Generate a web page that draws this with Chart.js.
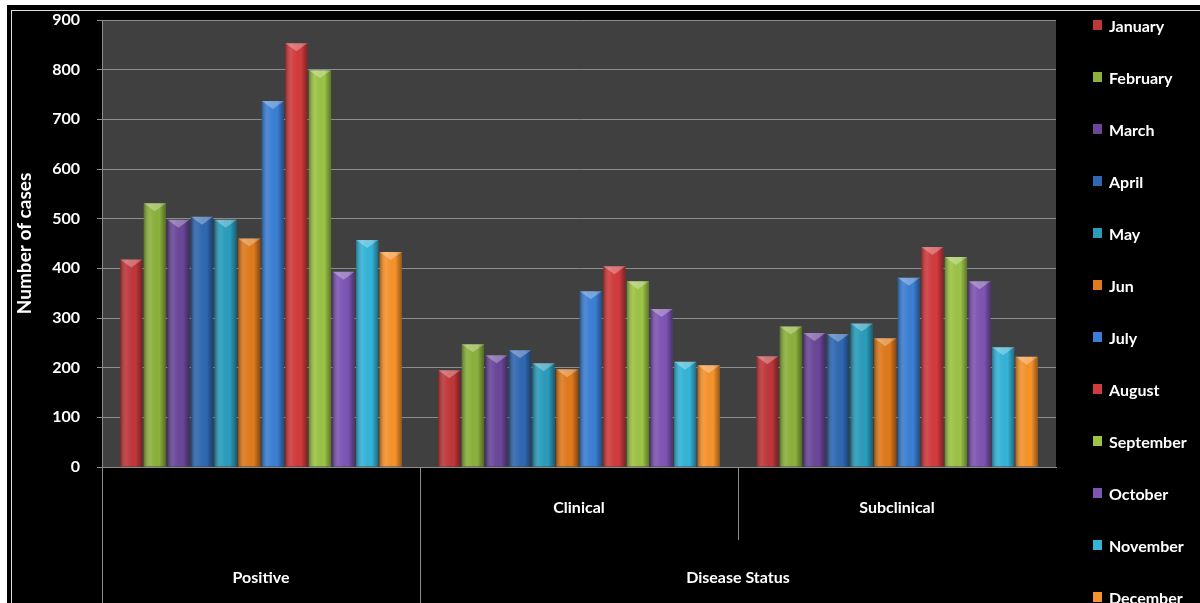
<!DOCTYPE html>
<html>
<head>
<meta charset="utf-8">
<script src="https://cdn.jsdelivr.net/npm/chart.js@4.4.0/dist/chart.umd.min.js"></script>
<style>
body { margin: 0; background: #fff; width: 1200px; height: 603px; overflow: hidden; position: relative; }
#frame { position: absolute; left: 7px; top: 5px; right: 0; bottom: 0; background: #000; }
#inner { position: absolute; left: 4px; top: 5px; right: -5px; bottom: -5px; border-left: 1px solid #ddd; border-top: 1px solid #ddd; }
#wrap { position: absolute; left: 0; top: 0; width: 1200px; height: 603px; }
#legend { position: absolute; left: 1093px; top: 0; width: 107px; height: 603px; overflow: hidden; }
.item { position: absolute; left: 0; height: 20px; display: flex; align-items: center; color: #fff; font: bold 16px Lato, sans-serif; white-space: nowrap; }
.box { width: 9px; height: 10px; margin-right: 7px; }
</style>
</head>
<body>
<div id="frame"><div id="inner"></div></div>
<div id="wrap"><canvas id="chart" width="1200" height="603"></canvas></div>
<div id="legend"></div>
<script>
const months = ['January', 'February', 'March', 'April', 'May', 'Jun', 'July',
    'August', 'September', 'October', 'November', 'December'];
const categories = ['Positive', 'Clinical', 'Subclinical'];
const parentLabel = 'Disease Status';

// values per category, one per month
const positive = [418, 531, 498, 504, 498, 460, 737, 853, 799, 393, 457, 433];
const clinical = [195, 247, 225, 235, 209, 197, 354, 404, 374, 318, 212, 205];
const subclinical = [223, 283, 270, 268, 289, 259, 381, 443, 423, 374, 241, 222];

const yTicks = [0, 100, 200, 300, 400, 500, 600, 700, 800, 900];

const colors = ['#c0373a', '#8cb13c', '#6a4799', '#2f68b2', '#2a9dbc', '#e07a1c',
    '#3b7fd4', '#d23b3d', '#9cc446', '#7e55b4', '#34b4d8', '#f7932b'];

const lineColor = '#8c8c8c';
const font = 'Lato, sans-serif';

const datasets = months.map((m, i) => ({
    label: m,
    data: [positive[i], clinical[i], subclinical[i]],
    backgroundColor: colors[i],
    borderWidth: 0,
    barPercentage: 0.94,
    categoryPercentage: 0.89
}));

const plotBg = {
    id: 'plotBg',
    beforeDraw(chart) {
        const a = chart.chartArea;
        chart.ctx.save();
        chart.ctx.fillStyle = '#404040';
        chart.ctx.fillRect(a.left, a.top, a.right - a.left, a.bottom - a.top);
        chart.ctx.restore();
    }
};

// shading and top bevel on each bar
const barShade = {
    id: 'barShade',
    afterDatasetsDraw(chart) {
        const c = chart.ctx;
        c.save();
        chart.data.datasets.forEach((ds, i) => {
            chart.getDatasetMeta(i).data.forEach(bar => {
                const left = bar.x - bar.width / 2;
                const right = bar.x + bar.width / 2;
                const g = c.createLinearGradient(left, 0, right, 0);
                g.addColorStop(0, 'rgba(0,0,0,0.35)');
                g.addColorStop(0.3, 'rgba(255,255,255,0.08)');
                g.addColorStop(0.7, 'rgba(0,0,0,0)');
                g.addColorStop(1, 'rgba(0,0,0,0.4)');
                c.fillStyle = g;
                c.fillRect(left, bar.y, bar.width, bar.base - bar.y);
                c.beginPath();
                c.moveTo(left, bar.y);
                c.lineTo(right, bar.y);
                c.lineTo(bar.x, bar.y + 8);
                c.closePath();
                c.fillStyle = 'rgba(255,255,255,0.3)';
                c.fill();
            });
        });
        c.restore();
    }
};

// lower label table: dividers, first category and parent label
const axisTable = {
    id: 'axisTable',
    afterDraw(chart) {
        const c = chart.ctx;
        const xs = chart.scales.x;
        const top = chart.chartArea.bottom;
        const h = chart.height;
        const e1 = (xs.getPixelForValue(0) + xs.getPixelForValue(1)) / 2;
        const e2 = (xs.getPixelForValue(1) + xs.getPixelForValue(2)) / 2;
        c.save();
        c.strokeStyle = lineColor;
        c.lineWidth = 1;
        c.beginPath();
        c.moveTo(xs.left + 0.5, top); c.lineTo(xs.left + 0.5, h);
        c.moveTo(Math.round(e1) + 0.5, top); c.lineTo(Math.round(e1) + 0.5, h);
        c.moveTo(Math.round(e2) + 0.5, top); c.lineTo(Math.round(e2) + 0.5, top + 73);
        c.stroke();
        c.fillStyle = '#fff';
        c.font = 'bold 16px ' + font;
        c.textAlign = 'center';
        c.textBaseline = 'middle';
        c.fillText(categories[0], xs.getPixelForValue(0), 578);
        c.fillText(parentLabel, (e1 + xs.right) / 2, 578);
        c.restore();
    }
};

new Chart(document.getElementById('chart'), {
    type: 'bar',
    data: { labels: categories, datasets: datasets },
    options: {
        responsive: false,
        animation: false,
        layout: { padding: { top: 20, right: 144, bottom: 0, left: 0 } },
        plugins: { legend: { display: false }, tooltip: { enabled: false } },
        scales: {
            x: {
                grid: { display: false },
                border: { display: true, color: lineColor },
                ticks: {
                    color: '#fff',
                    font: { family: font, size: 16, weight: 'bold' },
                    padding: 23,
                    callback: (v, i) => i === 0 ? '' : categories[i]
                },
                afterFit: s => { s.height = 136; }
            },
            y: {
                min: 0,
                max: 900,
                afterBuildTicks: s => { s.ticks = yTicks.map(v => ({ value: v })); },
                grid: { color: lineColor, tickLength: 5 },
                border: { display: true, color: lineColor },
                ticks: {
                    color: '#fff',
                    font: { family: font, size: 16, weight: 'bold' },
                    padding: 17
                },
                title: {
                    display: true,
                    text: 'Number of cases',
                    color: '#fff',
                    font: { family: font, size: 19, weight: 'bold' },
                    padding: { top: 13, bottom: 0 }
                },
                afterFit: s => {
                    s.width = 102;
                    s.paddingTop = 9;
                    s.paddingBottom = 9;
                }
            }
        }
    },
    plugins: [plotBg, barShade, axisTable]
});

const legend = document.getElementById('legend');
datasets.forEach((ds, i) => {
    const item = document.createElement('div');
    item.className = 'item';
    item.style.top = (15 + i * 52) + 'px';
    const box = document.createElement('span');
    box.className = 'box';
    box.style.background = ds.backgroundColor;
    item.appendChild(box);
    item.appendChild(document.createTextNode(ds.label));
    legend.appendChild(item);
});
</script>
</body>
</html>
